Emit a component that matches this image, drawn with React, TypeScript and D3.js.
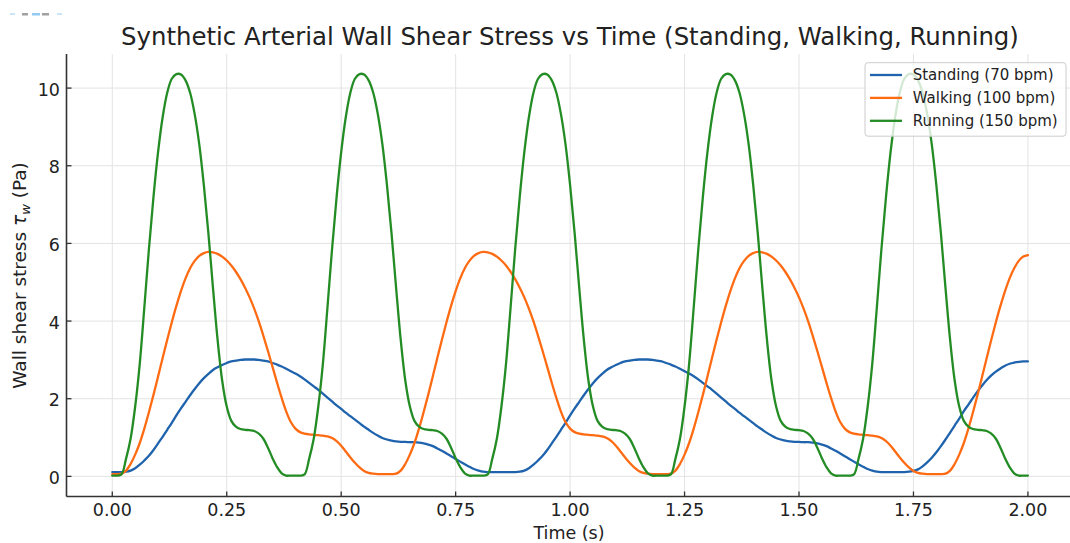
import React from 'react';
import * as d3 from 'd3';

// Time samples (s), 0.00 .. 2.00 every 0.01 s
const time: number[] = d3.range(201).map((i) => i / 100);

// Wall shear stress (Pa)
const standing: number[] = [
  0.11, 0.11, 0.11, 0.12, 0.15, 0.21, 0.3, 0.41, 0.53, 0.68,
  0.85, 1.02, 1.2, 1.38, 1.57, 1.75, 1.92, 2.09, 2.25, 2.4,
  2.53, 2.64, 2.74, 2.81, 2.87, 2.92, 2.96, 2.98, 3.0, 3.01,
  3.01, 3.01, 3.0, 2.98, 2.96, 2.92, 2.88, 2.83, 2.77, 2.71,
  2.65, 2.58, 2.5, 2.41, 2.32, 2.23, 2.13, 2.03, 1.93, 1.83,
  1.74, 1.64, 1.55, 1.46, 1.37, 1.28, 1.2, 1.12, 1.05, 0.99,
  0.95, 0.92, 0.9, 0.89, 0.89, 0.88, 0.88, 0.87, 0.85, 0.82,
  0.78, 0.72, 0.66, 0.59, 0.52, 0.45, 0.38, 0.31, 0.25, 0.19,
  0.15, 0.12, 0.11, 0.11, 0.11, 0.11, 0.11, 0.11, 0.11, 0.12,
  0.15, 0.21, 0.3, 0.41, 0.53, 0.68, 0.85, 1.02, 1.2, 1.38,
  1.57, 1.75, 1.92, 2.09, 2.25, 2.4, 2.53, 2.64, 2.74, 2.81,
  2.87, 2.92, 2.96, 2.98, 3.0, 3.01, 3.01, 3.01, 3.0, 2.98,
  2.96, 2.92, 2.88, 2.83, 2.77, 2.71, 2.65, 2.58, 2.5, 2.41,
  2.32, 2.23, 2.13, 2.03, 1.93, 1.83, 1.74, 1.64, 1.55, 1.46,
  1.37, 1.28, 1.2, 1.12, 1.05, 0.99, 0.95, 0.92, 0.9, 0.89,
  0.89, 0.88, 0.88, 0.87, 0.85, 0.82, 0.78, 0.72, 0.66, 0.59,
  0.52, 0.45, 0.38, 0.31, 0.25, 0.19, 0.15, 0.12, 0.11, 0.11,
  0.11, 0.11, 0.11, 0.11, 0.12, 0.14, 0.18, 0.26, 0.36, 0.48,
  0.62, 0.78, 0.95, 1.13, 1.31, 1.49, 1.68, 1.85, 2.02, 2.19,
  2.34, 2.48, 2.6, 2.7, 2.78, 2.85, 2.9, 2.93, 2.95, 2.96,
  2.96,
];

const walking: number[] = [
  0.06, 0.06, 0.07, 0.15, 0.32, 0.56, 0.86, 1.23, 1.65, 2.1,
  2.57, 3.05, 3.52, 3.97, 4.39, 4.77, 5.1, 5.36, 5.55, 5.68,
  5.75, 5.78, 5.77, 5.73, 5.66, 5.56, 5.43, 5.27, 5.08, 4.86,
  4.61, 4.32, 3.99, 3.62, 3.23, 2.82, 2.41, 2.02, 1.67, 1.4,
  1.23, 1.14, 1.1, 1.08, 1.07, 1.06, 1.05, 1.03, 0.99, 0.91,
  0.79, 0.64, 0.49, 0.35, 0.23, 0.14, 0.09, 0.07, 0.06, 0.06,
  0.06, 0.06, 0.07, 0.15, 0.32, 0.56, 0.86, 1.23, 1.65, 2.1,
  2.57, 3.05, 3.52, 3.97, 4.39, 4.77, 5.1, 5.36, 5.55, 5.68,
  5.75, 5.78, 5.77, 5.73, 5.66, 5.56, 5.43, 5.27, 5.08, 4.86,
  4.61, 4.32, 3.99, 3.62, 3.23, 2.82, 2.41, 2.02, 1.67, 1.4,
  1.23, 1.14, 1.1, 1.08, 1.07, 1.06, 1.05, 1.03, 0.99, 0.91,
  0.79, 0.64, 0.49, 0.35, 0.23, 0.14, 0.09, 0.07, 0.06, 0.06,
  0.06, 0.06, 0.07, 0.15, 0.32, 0.56, 0.86, 1.23, 1.65, 2.1,
  2.57, 3.05, 3.52, 3.97, 4.39, 4.77, 5.1, 5.36, 5.55, 5.68,
  5.75, 5.78, 5.77, 5.73, 5.66, 5.56, 5.43, 5.27, 5.08, 4.86,
  4.61, 4.32, 3.99, 3.62, 3.23, 2.82, 2.41, 2.02, 1.67, 1.4,
  1.23, 1.14, 1.1, 1.08, 1.07, 1.06, 1.05, 1.03, 0.99, 0.91,
  0.79, 0.64, 0.49, 0.35, 0.23, 0.14, 0.09, 0.07, 0.06, 0.06,
  0.06, 0.06, 0.07, 0.15, 0.32, 0.56, 0.86, 1.23, 1.65, 2.1,
  2.57, 3.05, 3.52, 3.97, 4.39, 4.77, 5.1, 5.36, 5.55, 5.66,
  5.7,
];

const running: number[] = [
  0.02, 0.02, 0.05, 0.45, 0.97, 1.8, 2.9, 4.35, 5.85, 7.2,
  8.35, 9.25, 9.88, 10.24, 10.36, 10.35, 10.2, 9.88, 9.33, 8.55,
  7.5, 6.25, 4.85, 3.52, 2.47, 1.8, 1.43, 1.28, 1.22, 1.2,
  1.19, 1.17, 1.1, 0.97, 0.74, 0.47, 0.24, 0.08, 0.02, 0.02,
  0.02, 0.02, 0.05, 0.45, 0.97, 1.8, 2.9, 4.35, 5.85, 7.2,
  8.35, 9.25, 9.88, 10.24, 10.36, 10.35, 10.2, 9.88, 9.33, 8.55,
  7.5, 6.25, 4.85, 3.52, 2.47, 1.8, 1.43, 1.28, 1.22, 1.2,
  1.19, 1.17, 1.1, 0.97, 0.74, 0.47, 0.24, 0.08, 0.02, 0.02,
  0.02, 0.02, 0.05, 0.45, 0.97, 1.8, 2.9, 4.35, 5.85, 7.2,
  8.35, 9.25, 9.88, 10.24, 10.36, 10.35, 10.2, 9.88, 9.33, 8.55,
  7.5, 6.25, 4.85, 3.52, 2.47, 1.8, 1.43, 1.28, 1.22, 1.2,
  1.19, 1.17, 1.1, 0.97, 0.74, 0.47, 0.24, 0.08, 0.02, 0.02,
  0.02, 0.02, 0.05, 0.45, 0.97, 1.8, 2.9, 4.35, 5.85, 7.2,
  8.35, 9.25, 9.88, 10.24, 10.36, 10.35, 10.2, 9.88, 9.33, 8.55,
  7.5, 6.25, 4.85, 3.52, 2.47, 1.8, 1.43, 1.28, 1.22, 1.2,
  1.19, 1.17, 1.1, 0.97, 0.74, 0.47, 0.24, 0.08, 0.02, 0.02,
  0.02, 0.02, 0.05, 0.45, 0.97, 1.8, 2.9, 4.35, 5.85, 7.2,
  8.35, 9.25, 9.88, 10.24, 10.36, 10.35, 10.2, 9.88, 9.33, 8.55,
  7.5, 6.25, 4.85, 3.52, 2.47, 1.8, 1.43, 1.28, 1.22, 1.2,
  1.19, 1.17, 1.1, 0.97, 0.74, 0.47, 0.24, 0.08, 0.02, 0.02,
  0.02,
];

const seriesNames: string[] = ['Standing (70 bpm)', 'Walking (100 bpm)', 'Running (150 bpm)'];
const seriesColors: string[] = ['#1f63ad', '#ff6b12', '#248c24'];
const xTicks: number[] = [0, 0.25, 0.5, 0.75, 1.0, 1.25, 1.5, 1.75, 2.0];
const yTicks: number[] = [0, 2, 4, 6, 8, 10];
const xDomain: number[] = [-0.1, 2.1];
const yDomain: number[] = [-0.518, 10.878];

const FONT = "'DejaVu Sans', sans-serif";

export default function App() {
  const W = 1070;
  const H = 543;
  const x = d3.scaleLinear().domain(xDomain).range([66.5, 1073.7]);
  const y = d3.scaleLinear().domain(yDomain).range([496.5, 54]);
  const line = d3
    .line<number>()
    .x((_, i) => x(time[i]))
    .y((d) => y(d))
    .curve(d3.curveCatmullRom.alpha(0.5));
  const series = [standing, walking, running];
  const left = x.range()[0];
  const bottom = y.range()[0];
  const top = y.range()[1];
  const right = x.range()[1];

  return (
    <svg
      width={W}
      height={H}
      viewBox={`0 0 ${W} ${H}`}
      style={{ position: 'absolute', left: 0, top: 0, display: 'block', background: '#fff' }}
      fontFamily={FONT}
    >
      <rect x={0} y={0} width={W} height={H} fill="#fff" />
      {/* faint artifact at the top-left */}
      <g opacity={0.55}>
        <rect x={10} y={13} width={5} height={2} fill="#9fd0f0" />
        <rect x={22} y={13} width={6} height={2.5} fill="#555" />
        <rect x={32} y={13} width={8} height={2.5} fill="#3aa0e8" />
        <rect x={42} y={13} width={7} height={2.5} fill="#555" />
        <rect x={57} y={13} width={5} height={2} fill="#9fd0f0" />
      </g>

      {/* grid */}
      <g stroke="#e3e3e3" strokeWidth={1}>
        {xTicks.map((t) => (
          <line key={'gx' + t} x1={x(t)} x2={x(t)} y1={top} y2={bottom} />
        ))}
        {yTicks.map((t) => (
          <line key={'gy' + t} x1={left} x2={right} y1={y(t)} y2={y(t)} />
        ))}
      </g>

      {/* series */}
      {series.map((s, k) => (
        <path
          key={seriesNames[k]}
          d={line(s) || ''}
          fill="none"
          stroke={seriesColors[k]}
          strokeWidth={2.3}
          strokeLinejoin="round"
          strokeLinecap="round"
        />
      ))}

      {/* spines */}
      <line x1={left} x2={left} y1={top} y2={bottom} stroke="#333" strokeWidth={1.6} />
      <line x1={left} x2={right} y1={bottom} y2={bottom} stroke="#333" strokeWidth={1.6} />

      {/* ticks */}
      <g stroke="#333" strokeWidth={1.3}>
        {xTicks.map((t) => (
          <line key={'tx' + t} x1={x(t)} x2={x(t)} y1={bottom} y2={bottom - 5} />
        ))}
        {yTicks.map((t) => (
          <line key={'ty' + t} x1={left} x2={left + 5} y1={y(t)} y2={y(t)} />
        ))}
      </g>

      {/* tick labels */}
      <g fill="#222" fontSize={17.5}>
        {xTicks.map((t) => (
          <text key={'lx' + t} x={x(t)} y={516} textAnchor="middle">
            {t.toFixed(2)}
          </text>
        ))}
        {yTicks.map((t) => (
          <text key={'ly' + t} x={60} y={y(t) + 7.5} textAnchor="end">
            {String(t)}
          </text>
        ))}
      </g>

      {/* title and axis labels */}
      <text x={570} y={45} textAnchor="middle" fontSize={24.4} fill="#222">
        Synthetic Arterial Wall Shear Stress vs Time (Standing, Walking, Running)
      </text>
      <text x={569} y={539} textAnchor="middle" fontSize={17.5} fill="#222">
        Time (s)
      </text>
      <text transform="translate(26,275.5) rotate(-90)" textAnchor="middle" fontSize={18.5} fill="#222">
        Wall shear stress <tspan fontStyle="italic">τ</tspan>
        <tspan fontStyle="italic" fontSize={13} dy={4}>w</tspan>
        <tspan dy={-4}> (Pa)</tspan>
      </text>

      {/* legend */}
      <g>
        <rect x={865} y={62.7} width={201} height={73.5} rx={3} fill="#fff" fillOpacity={0.8} stroke="#cccccc" strokeWidth={1} />
        {seriesNames.map((n, k) => {
          const cy = 75 + k * 22.9;
          return (
            <g key={'lg' + n}>
              <line x1={870} x2={902} y1={cy} y2={cy} stroke={seriesColors[k]} strokeWidth={2.3} />
              <text x={912.7} y={cy + 5.3} fontSize={15} fill="#222">
                {n}
              </text>
            </g>
          );
        })}
      </g>
    </svg>
  );
}
